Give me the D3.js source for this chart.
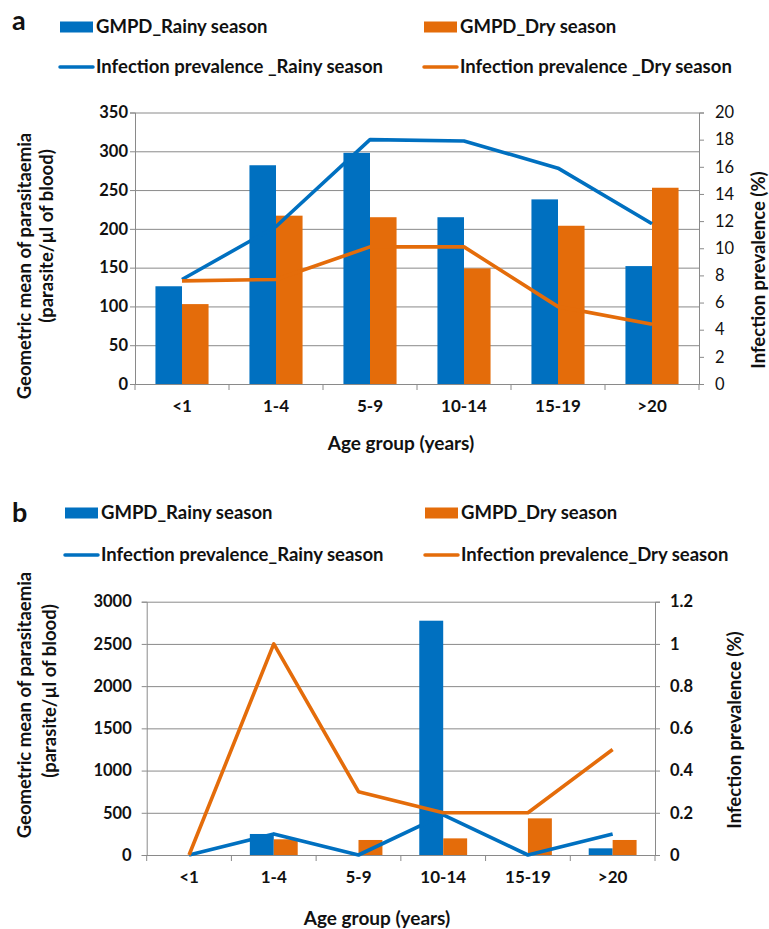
<!DOCTYPE html>
<html>
<head>
<meta charset="utf-8">
<script src="https://cdn.jsdelivr.net/npm/d3@7"></script>
<style>
  body { margin: 0; background: #fff; }
  text { font-family: Lato, "Open Sans", sans-serif; fill: #111; }
</style>
</head>
<body>
<svg id="chart" width="769" height="929"></svg>
<script>
// age groups shared by both panels
const ageGroups = ["<1", "1-4", "5-9", "10-14", "15-19", ">20"];

// panel a
const gmpdRainyA = [126, 282, 298, 215, 238, 152];
const gmpdDryA = [103, 217, 215, 149, 204, 253];
const prevRainyA = [7.7, 11.6, 18.0, 17.9, 15.9, 11.8];
const prevDryA = [7.6, 7.7, 10.1, 10.1, 5.7, 4.4];
const leftTicksA = [0, 50, 100, 150, 200, 250, 300, 350];
const rightTicksA = [0, 2, 4, 6, 8, 10, 12, 14, 16, 18, 20];

// panel b
const gmpdRainyB = [0, 249, 0, 2775, 0, 79];
const gmpdDryB = [0, 186, 178, 197, 434, 178];
const prevRainyB = [0, 0.1, 0, 0.19, 0, 0.1];
const prevDryB = [0, 1.0, 0.3, 0.2, 0.2, 0.5];
const leftTicksB = [0, 500, 1000, 1500, 2000, 2500, 3000];
const rightTicksB = [0, 0.2, 0.4, 0.6, 0.8, 1, 1.2];

const blue = "#0070c0", orange = "#e46c0a", grid = "#8a8a8a";
const plain = d => String(d);

const svg = d3.select("#chart");

function drawPanel(o) {
  const g = svg.append("g");

  const x0 = d3.scaleBand().domain(ageGroups).range([o.left, o.right]);
  const x1 = d3.scaleBand().domain(["rainy", "dry"])
    .range([0, x0.bandwidth()]).paddingOuter(0.77);
  const yL = d3.scaleLinear().domain(d3.extent(o.leftTicks)).range([o.bottom, o.top]);
  const yR = d3.scaleLinear().domain(d3.extent(o.rightTicks)).range([o.bottom, o.top]);

  // gridlines
  g.append("g")
    .attr("transform", `translate(${o.left},0)`)
    .call(d3.axisLeft(yL).tickValues(o.leftTicks).tickSize(-(o.right - o.left)).tickFormat(""))
    .call(s => s.select(".domain").remove())
    .selectAll("line").attr("stroke", grid);

  // left axis
  const la = g.append("g")
    .attr("transform", `translate(${o.left},0)`)
    .call(d3.axisLeft(yL).tickValues(o.leftTicks).tickFormat(plain)
      .tickSize(5).tickPadding(o.leftPad));
  la.selectAll("line,path").attr("stroke", grid);
  la.selectAll("text").attr("font-size", 16.5).attr("font-weight", "bold")
    .attr("font-family", "Lato").attr("fill", "#111");

  // right axis
  const ra = g.append("g")
    .attr("transform", `translate(${o.right},0)`)
    .call(d3.axisRight(yR).tickValues(o.rightTicks).tickFormat(plain)
      .tickSize(5).tickPadding(o.rightPad));
  ra.selectAll("line,path").attr("stroke", grid);
  ra.selectAll("text").attr("font-size", 16.5).attr("font-weight", o.rightBold ? "bold" : "normal")
    .attr("font-family", "Lato").attr("fill", "#111");

  // x axis: labels at centres, ticks at category boundaries
  const xa = g.append("g")
    .attr("transform", `translate(0,${o.bottom})`)
    .call(d3.axisBottom(x0).tickSize(0).tickPadding(o.catPad));
  xa.select(".domain").attr("stroke", grid);
  xa.selectAll("text").attr("font-size", 17).attr("font-weight", "bold")
    .attr("font-family", "Lato").attr("fill", "#111");
  g.append("g").selectAll("line")
    .data(d3.range(ageGroups.length + 1))
    .join("line")
    .attr("x1", i => o.left + i * x0.step())
    .attr("x2", i => o.left + i * x0.step())
    .attr("y1", o.bottom)
    .attr("y2", o.bottom + 6)
    .attr("stroke", grid);

  // bars
  const bars = g.append("g").selectAll("g")
    .data(ageGroups)
    .join("g")
    .attr("transform", d => `translate(${x0(d)},0)`);
  bars.append("rect")
    .attr("x", x1("rainy")).attr("width", x1.bandwidth())
    .attr("y", (d, i) => yL(o.rainyBars[i]))
    .attr("height", (d, i) => yL(0) - yL(o.rainyBars[i]))
    .attr("fill", blue);
  bars.append("rect")
    .attr("x", x1("dry")).attr("width", x1.bandwidth())
    .attr("y", (d, i) => yL(o.dryBars[i]))
    .attr("height", (d, i) => yL(0) - yL(o.dryBars[i]))
    .attr("fill", orange);

  // prevalence lines
  const line = d3.line()
    .x((d, i) => x0(ageGroups[i]) + x0.bandwidth() / 2)
    .y(d => yR(d));
  g.append("path").datum(o.rainyLine)
    .attr("fill", "none").attr("stroke", blue).attr("stroke-width", 3.6)
    .attr("stroke-linejoin", "round").attr("d", line);
  g.append("path").datum(o.dryLine)
    .attr("fill", "none").attr("stroke", orange).attr("stroke-width", 3.6)
    .attr("stroke-linejoin", "round").attr("d", line);

  // axis titles
  g.append("text")
    .attr("x", o.xTitle[0]).attr("y", o.xTitle[1])
    .attr("text-anchor", "middle").attr("font-size", 19).attr("font-weight", "bold")
    .text("Age group (years)");
  const rot = (pos, txt) => g.append("text")
    .attr("transform", `translate(${pos[0]},${pos[1]}) rotate(-90)`)
    .attr("dy", "0.35em")
    .attr("text-anchor", "middle").attr("font-size", 18.5).attr("font-weight", "bold")
    .text(txt);
  rot(o.yTitle1, "Geometric mean of parasitaemia");
  rot(o.yTitle2, "(parasite/µl of blood)");
  rot(o.rTitle, "Infection prevalence (%)");

  // panel letter
  g.append("text")
    .attr("x", o.letter[0]).attr("y", o.letter[1])
    .attr("font-family", "Liberation Sans, Arial, sans-serif")
    .attr("font-size", 27).attr("font-weight", "bold")
    .text(o.label);

  // legend
  const leg = g.append("g");
  const items = [
    { type: "rect", color: blue, name: o.names[0], x: o.legX[0], y: o.legY[0] },
    { type: "rect", color: orange, name: o.names[1], x: o.legX[1], y: o.legY[0] },
    { type: "line", color: blue, name: o.names[2], x: o.legX[0], y: o.legY[1] },
    { type: "line", color: orange, name: o.names[3], x: o.legX[1], y: o.legY[1] }
  ];
  items.forEach(it => {
    if (it.type === "rect") {
      leg.append("rect").attr("x", it.x).attr("y", it.y - 5.5)
        .attr("width", 33).attr("height", 11).attr("fill", it.color);
    } else {
      leg.append("line").attr("x1", it.x).attr("x2", it.x + 33)
        .attr("y1", it.y).attr("y2", it.y)
        .attr("stroke", it.color).attr("stroke-width", 3.5).attr("stroke-linecap", "round");
    }
    leg.append("text").attr("x", it.x + 36).attr("y", it.y).attr("dy", "0.35em")
      .attr("font-size", 18.5).attr("font-weight", "bold").text(it.name);
  });
}

drawPanel({
  label: "a", letter: [12, 30],
  left: 135, right: 699, top: 112.5, bottom: 384,
  leftTicks: leftTicksA, rightTicks: rightTicksA,
  rainyBars: gmpdRainyA, dryBars: gmpdDryA,
  rainyLine: prevRainyA, dryLine: prevDryA,
  leftPad: 2, rightPad: 11, rightBold: false, catPad: 16,
  xTitle: [401, 450], yTitle1: [25, 266], yTitle2: [47, 236], rTitle: [759, 270],
  legX: [60, 424], legY: [27, 67],
  names: ["GMPD_Rainy season", "GMPD_Dry season",
          "Infection prevalence _Rainy season", "Infection prevalence _Dry season"]
});

drawPanel({
  label: "b", letter: [12, 522],
  left: 146.7, right: 655, top: 601.7, bottom: 855,
  leftTicks: leftTicksB, rightTicks: rightTicksB,
  rainyBars: gmpdRainyB, dryBars: gmpdDryB,
  rainyLine: prevRainyB, dryLine: prevDryB,
  leftPad: 10, rightPad: 10, rightBold: true, catPad: 16,
  xTitle: [377, 925], yTitle1: [25, 705], yTitle2: [50, 691], rTitle: [735, 730],
  legX: [65, 425], legY: [513, 555],
  names: ["GMPD_Rainy season", "GMPD_Dry season",
          "Infection prevalence_Rainy season", "Infection prevalence_Dry season"]
});
</script>
</body>
</html>
